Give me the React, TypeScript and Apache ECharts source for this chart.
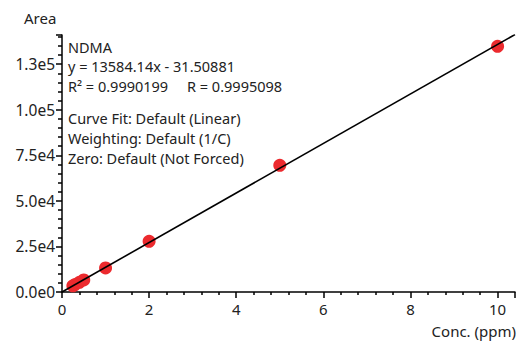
import React, { useEffect, useRef } from "react";
import * as echarts from "echarts";

const concentrations = [0.25, 0.3, 0.4, 0.5, 1, 2, 5, 10];
const areas = [3400, 4100, 5300, 6600, 13200, 27800, 69500, 134800];
const fitSlope = 13584.14;
const fitIntercept = -31.50881;
const fitRange = [0, 10.4];
const annotationLines = [
  "NDMA",
  "y = 13584.14x - 31.50881",
  "R² = 0.9990199     R = 0.9995098",
  "Curve Fit: Default (Linear)",
  "Weighting: Default (1/C)",
  "Zero: Default (Not Forced)",
];
const annotationRows = [47, 66, 85.5, 118, 138, 157.5];

const FONT = "'Noto Sans', sans-serif";

export default function App() {
  const ref = useRef<HTMLDivElement>(null);
  useEffect(() => {
    if (!ref.current) return;
    const chart = echarts.init(ref.current, undefined, { renderer: "svg" });
    const points = concentrations.map((c, i) => [c, areas[i]]);
    const fitLine = fitRange.map((x) => [x, fitSlope * x + fitIntercept]);
    chart.setOption({
      animation: false,
      backgroundColor: "#ffffff",
      grid: { left: 62, right: 1, top: 35, bottom: 51 },
      xAxis: {
        type: "value",
        min: 0,
        max: 10.4,
        interval: 2,
        axisLine: { show: true, lineStyle: { color: "#000", width: 1.5 } },
        axisTick: { show: true, length: 6, lineStyle: { color: "#000", width: 1.5 } },
        minorTick: { show: true, splitNumber: 5, length: 3, lineStyle: { color: "#000", width: 1.5 } },
        splitLine: { show: false },
        axisLabel: {
          color: "#222",
          fontFamily: FONT,
          fontSize: 15,
          margin: 9,
          formatter: (v: number) => (Math.abs(v / 2 - Math.round(v / 2)) < 1e-9 ? String(v) : ""),
        },
      },
      yAxis: {
        type: "value",
        min: 0,
        max: 141000,
        interval: 25000,
        axisLine: { show: true, lineStyle: { color: "#000", width: 1.5 } },
        axisTick: { show: true, length: 6, lineStyle: { color: "#000", width: 1.5 } },
        minorTick: { show: true, splitNumber: 5, length: 4, lineStyle: { color: "#000", width: 1.5 } },
        splitLine: { show: false },
        axisLabel: {
          color: "#222",
          fontFamily: FONT,
          fontSize: 15.5,
          margin: 7,
          formatter: (v: number) =>
            v % 25000 === 0 ? v.toExponential(1).replace("+", "") : "",
        },
      },
      graphic: [
        {
          type: "text",
          x: 24,
          y: 18,
          style: { text: "Area", font: `15px ${FONT}`, fill: "#222", verticalAlign: "middle" },
        },
        {
          type: "text",
          x: 516,
          y: 331,
          style: {
            text: "Conc. (ppm)",
            font: `15px ${FONT}`,
            fill: "#222",
            align: "right",
            verticalAlign: "middle",
          },
        },
        ...annotationLines.map((line, i) => ({
          type: "text",
          x: 68,
          y: annotationRows[i],
          style: {
            text: line,
            font: `14.5px ${FONT}`,
            fill: "#222",
            verticalAlign: "middle",
          },
        })),
      ],
      series: [
        {
          type: "line",
          data: fitLine,
          symbol: "none",
          lineStyle: { color: "#000", width: 1.6 },
          z: 3,
        },
        {
          type: "scatter",
          data: points,
          symbol: "circle",
          symbolSize: 13,
          itemStyle: { color: "#ec2a2e", opacity: 1 },
          z: 2,
        },
      ],
    });
    return () => chart.dispose();
  }, []);
  return (
    <div
      ref={ref}
      style={{ position: "absolute", left: 0, top: 0, width: 518, height: 343 }}
    />
  );
}
